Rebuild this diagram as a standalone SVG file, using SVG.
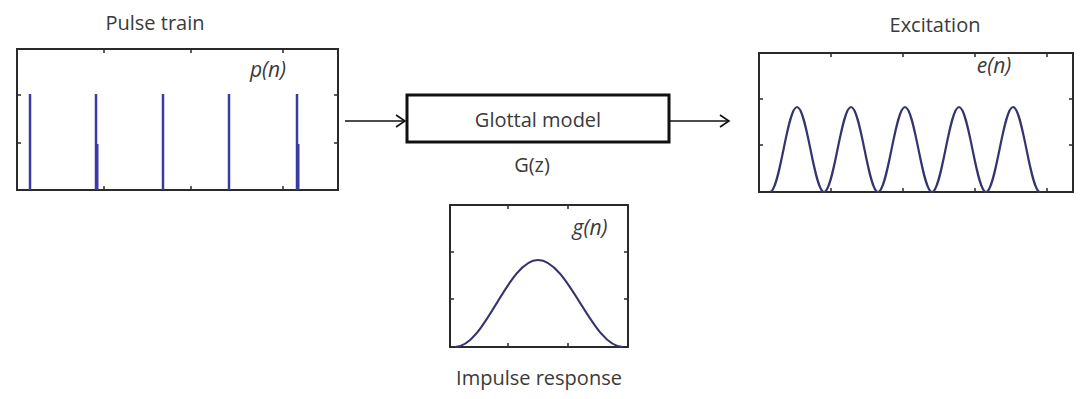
<svg xmlns="http://www.w3.org/2000/svg" width="1080" height="399" viewBox="0 0 1080 399">
<style>
.lbl{font-family:"Open Sans","Noto Sans",sans-serif;font-size:20px;fill:#3a3a3a;text-anchor:middle}
.var{font-family:"Open Sans","Noto Sans",sans-serif;font-size:21px;font-style:italic;fill:#3a3a3a;text-anchor:middle}
.frame{fill:none;stroke:#2a2a2a;stroke-width:2}
.tick{stroke:#2a2a2a;stroke-width:1.5}
.pulse{stroke:#3b3ba6;stroke-width:2.5}
.curve{fill:none;stroke:#34346e;stroke-width:2.2}
.conn{stroke:#111;stroke-width:1.6;fill:none}
</style>
<defs>
<marker id="arr" markerWidth="12" markerHeight="14" refX="10" refY="7" orient="auto" markerUnits="userSpaceOnUse">
<path d="M1,1 L10,7 L1,13" fill="none" stroke="#111" stroke-width="1.6"/>
</marker>
</defs>
<rect width="1080" height="399" fill="#ffffff"/>

<g id="pulse-train">
<text class="lbl" x="155" y="30" font-size="21">Pulse train</text>
<rect class="frame" x="17" y="49" width="321" height="141"/>
<g class="tick">
<line x1="17" y1="95" x2="21" y2="95"/><line x1="17" y1="143" x2="21" y2="143"/>
<line x1="338" y1="95" x2="334" y2="95"/><line x1="338" y1="143" x2="334" y2="143"/>
<line x1="104" y1="49" x2="104" y2="53"/><line x1="191" y1="49" x2="191" y2="53"/><line x1="283" y1="49" x2="283" y2="53"/>
<line x1="104" y1="190" x2="104" y2="186"/><line x1="191" y1="190" x2="191" y2="186"/><line x1="283" y1="190" x2="283" y2="186"/>
</g>
<g class="pulse">
<line x1="30" y1="94" x2="30" y2="190"/>
<line x1="96" y1="94" x2="96" y2="190"/>
<line x1="97.5" y1="144" x2="97.5" y2="190" stroke-width="2"/>
<line x1="163" y1="94" x2="163" y2="190"/>
<line x1="229" y1="94" x2="229" y2="190"/>
<line x1="297" y1="94" x2="297" y2="190"/>
<line x1="298.5" y1="144" x2="298.5" y2="190" stroke-width="2"/>
</g>
<text class="var" x="268" y="77">p(n)</text>
</g>

<g id="glottal-model">
<rect x="407" y="95" width="262" height="47" fill="#fff" stroke="#111" stroke-width="3"/>
<text class="lbl" x="538" y="127">Glottal model</text>
<text class="lbl" x="532" y="172">G(z)</text>
</g>

<g id="excitation">
<text class="lbl" x="935" y="32">Excitation</text>
<rect class="frame" x="759" y="53" width="314" height="139"/>
<g class="tick">
<line x1="759" y1="99" x2="763" y2="99"/><line x1="759" y1="145" x2="763" y2="145"/>
<line x1="1073" y1="99" x2="1069" y2="99"/><line x1="1073" y1="145" x2="1069" y2="145"/>
<line x1="831" y1="53" x2="831" y2="57"/><line x1="903" y1="53" x2="903" y2="57"/><line x1="975" y1="53" x2="975" y2="57"/><line x1="1047" y1="53" x2="1047" y2="57"/>
<line x1="831" y1="192" x2="831" y2="188"/><line x1="903" y1="192" x2="903" y2="188"/><line x1="975" y1="192" x2="975" y2="188"/><line x1="1047" y1="192" x2="1047" y2="188"/>
</g>
<path class="curve" d="M770,192 C779.8,192 787.2,107 797,107 C806.8,107 814.2,192 824,192 C833.8,192 841.2,107 851,107 C860.8,107 868.2,192 878,192 C887.8,192 895.2,107 905,107 C914.8,107 922.2,192 932,192 C941.8,192 949.2,107 959,107 C968.8,107 976.2,192 986,192 C995.8,192 1003.2,107 1013,107 C1022.8,107 1030.2,192 1040,192"/>
<text class="var" x="994" y="73">e(n)</text>
</g>

<g id="impulse-response">
<rect class="frame" x="450" y="205" width="178" height="142"/>
<g class="tick">
<line x1="450" y1="252" x2="454" y2="252"/><line x1="450" y1="299" x2="454" y2="299"/>
<line x1="628" y1="252" x2="624" y2="252"/><line x1="628" y1="299" x2="624" y2="299"/>
<line x1="508" y1="205" x2="508" y2="209"/><line x1="568" y1="205" x2="568" y2="209"/>
<line x1="508" y1="347" x2="508" y2="343"/><line x1="568" y1="347" x2="568" y2="343"/>
</g>
<path class="curve" stroke="#4a4a6e" stroke-width="1.8" d="M455,347 C485.2,347 507.8,260 538,260 C568.9,260 592.1,347 623,347"/>
<text class="var" x="590" y="235">g(n)</text>
<text class="lbl" x="539" y="385">Impulse response</text>
</g>

<g id="connectors">
<line class="conn" x1="345" y1="121" x2="405" y2="121" marker-end="url(#arr)"/>
<line class="conn" x1="669" y1="121" x2="729" y2="121" marker-end="url(#arr)"/>
</g>
</svg>
